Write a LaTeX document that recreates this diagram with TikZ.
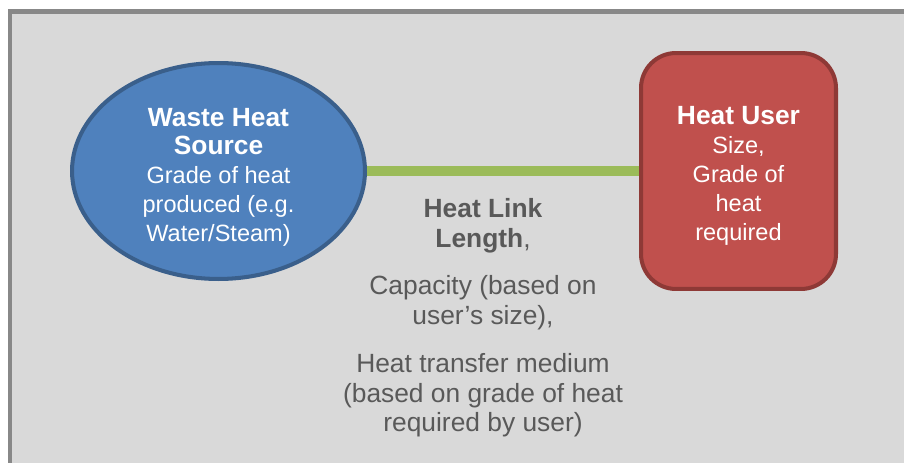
\documentclass[tikz,border=0pt]{standalone}
\usepackage{fontspec}
\setmainfont{Liberation Sans}
\usetikzlibrary{ shapes.geometric, positioning }
\definecolor{srcblue}{HTML}{4F81BD}
\definecolor{srcedge}{HTML}{3A5F8B}
\definecolor{userred}{HTML}{C0504D}
\definecolor{useredge}{HTML}{8E3936}
\definecolor{linkgreen}{HTML}{9BBB59}
\definecolor{panelgrey}{HTML}{D9D9D9}
\definecolor{frameedge}{HTML}{888888}
\definecolor{notegrey}{HTML}{595959}
\newcommand{\hd}[1]{{\fontsize{15}{17.5}\selectfont\bfseries #1}}% bold titles
\tikzset{
every node/.style={inner sep=1pt},
source/.style={ellipse, draw=srcedge, fill=srcblue, line width=2.3pt,
  minimum width=5.86cm, minimum height=4.32cm}, % the heat source
user/.style={rectangle, rounded corners=0.7cm, draw=useredge, fill=userred,
  line width=2.3pt, minimum width=3.9cm, minimum height=4.72cm}, % the heat user
inner text/.style={text=white, align=center, font=\fontsize{13.4}{16.4}\selectfont},
link/.style={draw=linkgreen, line width=5.7pt}, % the pipe between them
note/.style={text=notegrey, align=center, font=\fontsize{15}{17}\selectfont},
}

\begin{document}
\begin{tikzpicture}[x=0.02cm, y=-0.02cm]% one unit is one pixel
  \clip (0,0) rectangle (904,463);
  \draw[frameedge, fill=panelgrey, line width=2.3pt] (10,11.5) rectangle (960,520);

  \node[source] (src) at (218.5,171) {};
  \node[user] (usr) at (738.5,171) {};
  \node[inner text] (srctxt) at (218.5,177)
    {\hd{Waste Heat}\\ \hd{Source}\\ Grade of heat\\ produced (e.g.\\ Water/Steam)};
  \node[inner text] (usrtxt) at (738.5,176)
    {\hd{Heat User}\\ Size,\\ Grade of\\ heat\\ required};
  \node[note] (lnk) at (483,318)
    {\textbf{Heat Link}\\ \textbf{Length},\\[10pt] Capacity (based on\\ user’s size),\\[10pt]
     Heat transfer medium\\ (based on grade of heat\\ required by user)};

  \path
  (src) edge[link] (usr);
\end{tikzpicture}
\end{document}
